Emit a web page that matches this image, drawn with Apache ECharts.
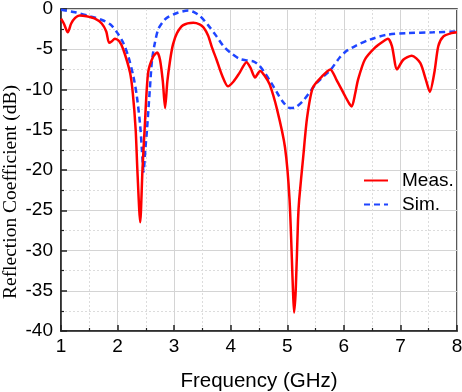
<!DOCTYPE html>
<html><head><meta charset="utf-8">
<script src="https://cdn.jsdelivr.net/npm/echarts@6/dist/echarts.min.js"></script>
<style>html,body{margin:0;padding:0;background:#fff}#c{width:462px;height:392px}</style>
</head><body><div id="c"></div>
<script>
// Measured reflection coefficient (GHz, dB)
var measFreq = [1.00,1.05,1.12,1.18,1.25,1.33,1.45,1.60,1.72,1.80,1.85,1.90,1.95,2.03,2.10,2.22,2.27,2.32,2.35,2.40,2.44,2.48,2.54,2.63,2.70,2.75,2.80,2.84,2.88,2.93,2.98,3.05,3.16,3.34,3.45,3.52,3.60,3.67,3.75,3.85,3.95,4.05,4.15,4.28,4.35,4.43,4.52,4.60,4.69,4.82,4.96,5.04,5.10,5.12,5.15,5.19,5.21,5.28,5.35,5.45,5.61,5.76,5.87,6.02,6.10,6.14,6.20,6.25,6.37,6.55,6.70,6.78,6.85,6.94,7.05,7.20,7.35,7.45,7.52,7.60,7.67,7.76,7.90,8.00];
var measDb = [-1.2,-1.8,-2.9,-1.8,-1.1,-0.8,-0.9,-1.2,-1.8,-2.8,-4.2,-4.0,-3.7,-4.0,-5.0,-7.9,-10.5,-15,-20,-26.5,-20,-14.7,-7.9,-5.9,-5.4,-6.3,-9,-12.3,-9,-6.3,-4.4,-3.0,-2.0,-1.7,-1.9,-2.3,-3.3,-4.8,-6.3,-8.3,-9.6,-9.0,-8.0,-6.6,-7.3,-8.5,-7.7,-8.3,-9.4,-12.5,-17.2,-23.7,-34.8,-37.7,-34.8,-26.2,-23.7,-18.5,-13.5,-9.8,-8.4,-7.5,-8.8,-10.8,-11.8,-12.1,-10.5,-8.8,-6.3,-4.8,-4.0,-3.7,-4.6,-7.5,-6.3,-5.8,-6.7,-8.8,-10.3,-7.9,-4.6,-3.4,-3.0,-2.9];
// Simulated reflection coefficient (GHz, dB)
var simFreq = [1.00,1.25,1.51,1.70,1.87,1.99,2.10,2.19,2.28,2.34,2.40,2.43,2.46,2.49,2.52,2.57,2.61,2.66,2.72,2.80,2.87,3.05,3.25,3.35,3.46,3.60,3.75,3.87,3.99,4.16,4.30,4.40,4.50,4.58,4.70,4.82,4.93,5.05,5.15,5.28,5.40,5.52,5.65,5.76,5.93,6.05,6.20,6.46,6.76,7.12,7.58,8.00];
var simDb = [-0.1,-0.4,-0.9,-1.3,-1.9,-2.9,-4.2,-5.9,-8.4,-10.8,-14.5,-17.5,-20.2,-17.5,-15,-10,-6.3,-4.2,-2.5,-1.6,-1.1,-0.5,-0.2,-0.4,-0.9,-2.0,-3.4,-4.6,-5.4,-6.2,-6.4,-6.5,-7.0,-7.7,-9.0,-10.4,-11.6,-12.3,-12.2,-11.4,-10.3,-9.2,-8.3,-7.6,-6.0,-5.2,-4.6,-3.8,-3.2,-3.0,-2.9,-2.8];
var seriesNames = ['Meas.', 'Sim.'];

function pairs(xs, ys){ return xs.map(function(x,i){ return [x, ys[i]]; }); }

var sans = "Arial, 'Liberation Sans', sans-serif";
var serif = "'Times New Roman', 'Liberation Serif', serif";
var chart = echarts.init(document.getElementById('c'), null, {renderer:'canvas'});
chart.setOption({
  animation:false,
  backgroundColor:'#fff',
  grid:{left:61,right:5,top:9,bottom:61,containLabel:false,outerBoundsMode:'none',show:true,borderColor:'#222',borderWidth:1.5,backgroundColor:'transparent'},
  legend:{
    orient:'vertical', left:358, top:166, itemWidth:24, itemHeight:14, itemGap:5,
    itemStyle:{opacity:0},
    textStyle:{fontFamily:sans,fontSize:19,color:'#000',padding:[0,0,0,9]},
    data:seriesNames
  },
  xAxis:{
    type:'value', min:1, max:8, interval:1,
    name:'Frequency (GHz)', nameLocation:'middle', nameGap:40, nameMoveOverlap:false,
    nameTextStyle:{fontFamily:sans,fontSize:20.5,color:'#000'},
    axisLine:{show:true,onZero:false,lineStyle:{color:'#222',width:1.5}},
    axisTick:{show:true,inside:true,length:6,lineStyle:{color:'#222',width:1.5}},
    minorTick:{show:true,splitNumber:2,length:3,lineStyle:{color:'#222',width:1.2}},
    axisLabel:{fontFamily:sans,fontSize:19,color:'#000',margin:6},
    splitLine:{show:true,lineStyle:{color:'#d4d4d4',width:1}},
    minorSplitLine:{show:true,lineStyle:{color:'#dcdcdc',width:1,type:[2,2]}}
  },
  yAxis:{
    type:'value', min:-40, max:0, interval:5,
    name:'Reflection Coefficient (dB)', nameLocation:'middle', nameGap:40, nameRotate:90, nameMoveOverlap:false,
    nameTextStyle:{fontFamily:serif,fontSize:19.5,color:'#000',padding:[0,44,0,0]},
    axisLine:{show:true,onZero:false,lineStyle:{color:'#222',width:1.5}},
    axisTick:{show:true,inside:true,length:6,lineStyle:{color:'#222',width:1.5}},
    minorTick:{show:true,splitNumber:2,length:3,lineStyle:{color:'#222',width:1.2}},
    axisLabel:{fontFamily:sans,fontSize:19,color:'#000',margin:8},
    splitLine:{show:true,lineStyle:{color:'#d4d4d4',width:1}},
    minorSplitLine:{show:true,lineStyle:{color:'#dcdcdc',width:1,type:[2,2]}}
  },
  series:[
    {name:seriesNames[0], type:'line', data:pairs(measFreq, measDb), showSymbol:false, symbol:'none',
     smooth:0.25, color:'#ff0000', lineStyle:{color:'#ff0000',width:2.5}, z:3},
    {name:seriesNames[1], type:'line', data:pairs(simFreq, simDb), showSymbol:false, symbol:'none',
     smooth:0.3, color:'#1f45ff', lineStyle:{color:'#1f45ff',width:2.5,type:[6,4]}, z:2}
  ]
});
</script></body></html>
